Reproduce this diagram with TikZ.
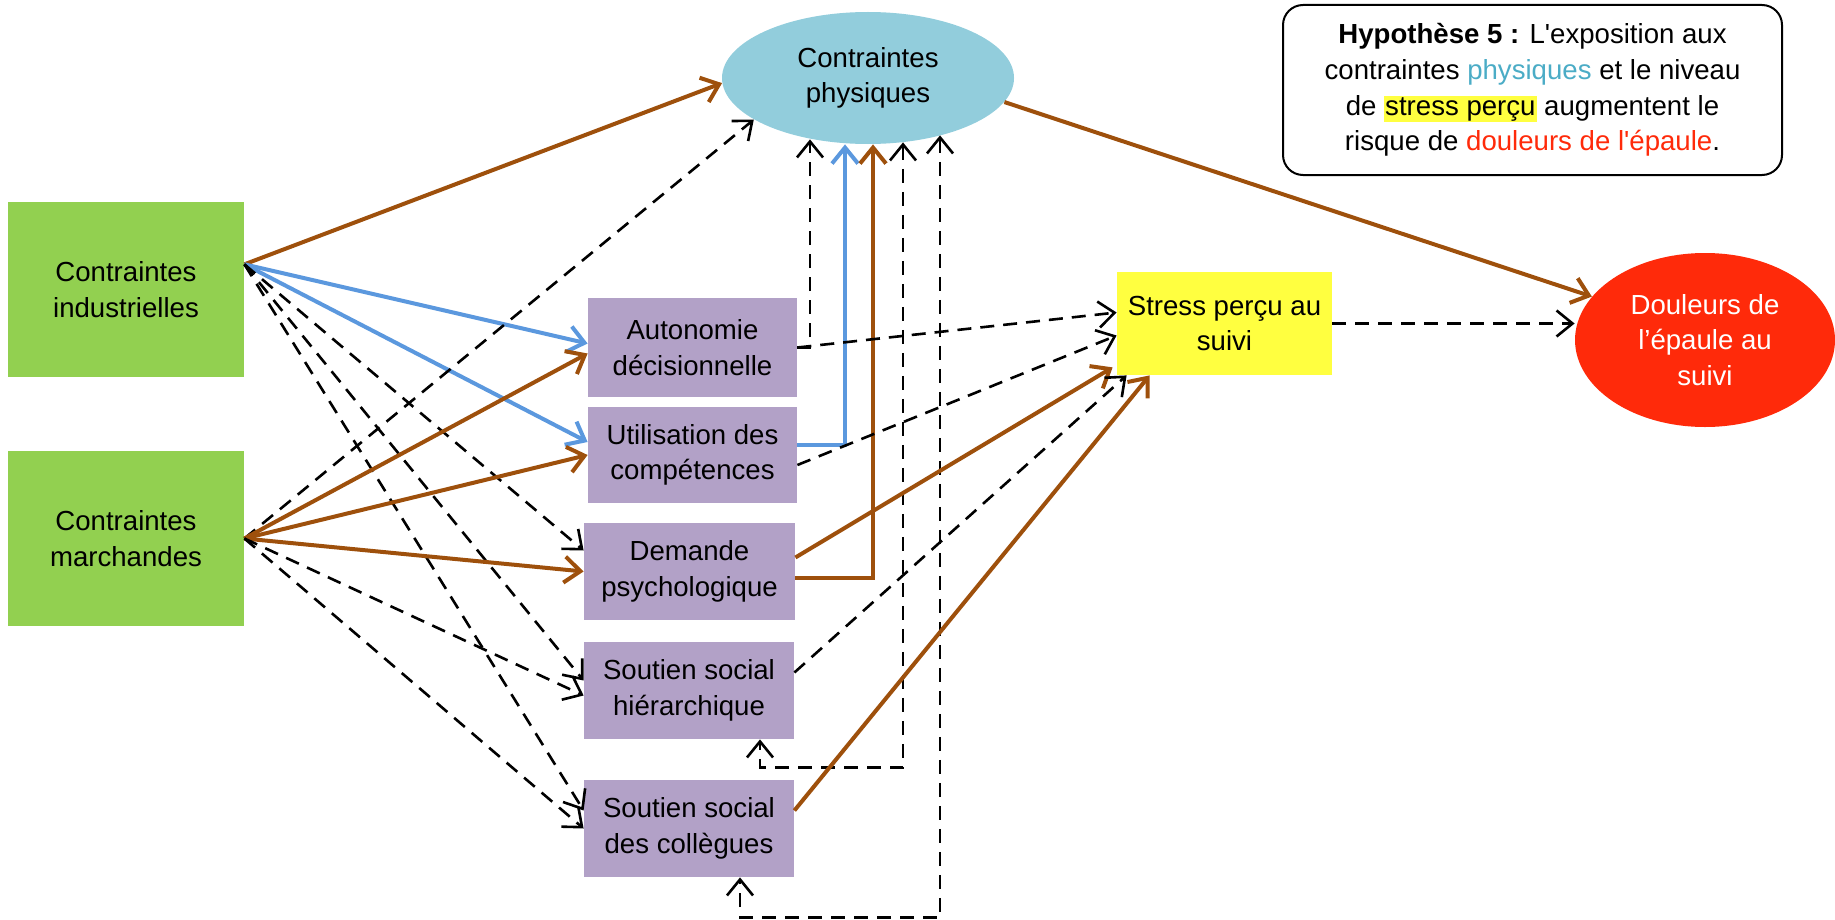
\documentclass[tikz,border=0pt]{standalone}
\usepackage{fontspec}
\setmainfont{Liberation Sans}
\usepackage{xcolor}
\usetikzlibrary{arrows.meta,shapes.geometric,calc}
\setlength{\fboxsep}{0.5pt}

\definecolor{vert}{RGB}{146,208,80}
\definecolor{mauve}{RGB}{178,161,199}
\definecolor{bleuciel}{RGB}{146,205,220}
\definecolor{jaune}{RGB}{255,255,64}
\definecolor{rouge}{RGB}{255,42,10}
\definecolor{marron}{RGB}{158,80,12}
\definecolor{bleu}{RGB}{91,152,222}
\definecolor{turquoise}{RGB}{75,172,198}

\tikzset{
  every node/.style={font=\fontsize{13.8}{17.8}\selectfont, align=center},
  pointe/.tip={Straight Barb[length=8pt,width=13pt]},
  boite/.style={rectangle, inner sep=0pt},
  brun/.style={-pointe, draw=marron, line width=2pt},
  bleue/.style={-pointe, draw=bleu, line width=2pt},
  tirets/.style={-pointe, draw=black, line width=1.3pt, dash pattern=on 7pt off 4.5pt},
}

\begin{document}
\begin{tikzpicture}[x=0.5pt,y=-0.5pt]
    \useasboundingbox (0,0) rectangle (1835,920);

    \node[boite, fill=vert, minimum width=118pt, minimum height=87.5pt] (ind) at (126,289.5) {Contraintes\\industrielles};
    \node[boite, fill=vert, minimum width=118pt, minimum height=87.5pt] (march) at (126,538.5) {Contraintes\\marchandes};

    \node[ellipse, fill=bleuciel, inner sep=0pt, minimum width=146pt, minimum height=66pt] (phys) at (868,78) {Contraintes\\physiques};

    \node[boite, fill=mauve, minimum width=104.5pt, minimum height=49.5pt] (auto) at (692.5,347.5) {Autonomie\\décisionnelle};
    \node[boite, fill=mauve, minimum width=104.5pt, minimum height=48pt] (util) at (692.5,455) {Utilisation des\\compétences};
    \node[boite, fill=mauve, minimum width=105.5pt, minimum height=48.5pt] (dem) at (689.5,571.5) {Demande\\psychologique};
    \node[boite, fill=mauve, minimum width=105pt, minimum height=48.5pt] (hier) at (689,690.5) {Soutien social\\hiérarchique};
    \node[boite, fill=mauve, minimum width=105pt, minimum height=48.5pt] (coll) at (689,828.5) {Soutien social\\des collègues};

    \node[boite, fill=jaune, minimum width=107.5pt, minimum height=51.5pt] (stress) at (1224.5,323.5) {Stress perçu au\\suivi};
    \node[ellipse, fill=rouge, text=white, inner sep=0pt, minimum width=130pt, minimum height=87pt] (doul) at (1705,340) {Douleurs de\\l’épaule au\\suivi};

    \node[draw, rounded corners=10pt, line width=1pt, minimum width=249.5pt, minimum height=85pt] (hyp) at (1532.5,90)
        {\textbf{Hypothèse 5 :} L\textquotesingle exposition aux\\contraintes \textcolor{turquoise}{physiques} et le niveau\\de \colorbox{jaune}{stress perçu} augmentent le\\risque de \textcolor{rouge}{douleurs de l\textquotesingle épaule}.};

    \draw[brun] (ind.12) -- (phys.182);
    \draw[bleue] (ind.12) -- ($(auto.west)+(0,-4)$);
    \draw[bleue] (ind.12) -- ($(util.west)+(0,-13)$);
    \draw[tirets] (ind.12) -- ($(dem.west)+(0,-21)$);
    \draw[tirets] (ind.12) -- ($(hier.west)+(0,-10)$);
    \draw[tirets] (ind.12) -- ($(coll.west)+(0,-18)$);

    \draw[tirets] (march.east) -- (phys.200);
    \draw[brun] (march.east) -- ($(auto.west)+(0,6)$);
    \draw[brun] (march.east) -- (util.west);
    \draw[brun] (march.east) -- (dem.west);
    \draw[tirets] (march.east) -- ($(hier.west)+(0,5)$);
    \draw[tirets] (march.east) -- (coll.west);

    \draw[tirets] (auto.east) -| ($(phys.south)+(-58,-5)$);
    \draw[bleue] ($(util.east)+(0,-10)$) -| ($(phys.south)+(-23,0)$);
    \draw[brun] ($(dem.east)+(0,6)$) -| ($(phys.south)+(5,0)$);
    \draw[tirets, pointe-pointe] ($(phys.south)+(35,-2)$) |- ($(hier.south)+(71,28)$) -- ($(hier.south)+(71,0)$);
    \draw[tirets, pointe-pointe] ($(phys.south)+(72,-9)$) |- ($(coll.south)+(51,40)$) -- ($(coll.south)+(51,0)$);

    \draw[tirets] (auto.east) -- ($(stress.west)+(0,-11)$);
    \draw[tirets] ($(util.east)+(0,10)$) -- ($(stress.west)+(0,12)$);
    \draw[brun] ($(dem.east)+(0,-14)$) -- ($(stress.south west)+(-4,-8)$);
    \draw[tirets] ($(hier.east)+(0,-18)$) -- ($(stress.south west)+(10,0)$);
    \draw[brun] ($(coll.east)+(0,-18)$) -- ($(stress.south west)+(33,0)$);

    \draw[tirets] (stress.east) -- (stress.east -| doul.west);
    \draw[brun] (phys.-10) -- (doul.159);
\end{tikzpicture}
\end{document}
